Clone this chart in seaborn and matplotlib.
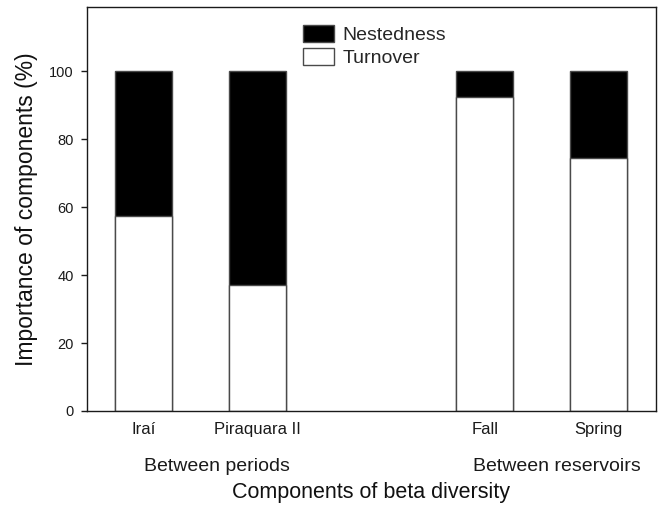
import matplotlib
matplotlib.use("Agg")
import matplotlib.pyplot as plt
import seaborn as sns
import pandas as pd
from matplotlib.patches import Patch

# Partition of beta diversity (%) into turnover and nestedness
sites = ["Iraí", "Piraquara II", "Fall", "Spring"]
turnover = [57.5, 37.0, 92.5, 74.5]
nestedness = [42.5, 63.0, 7.5, 25.5]
group_labels = ["Between periods", "Between reservoirs"]
group_centers = [0.65, 3.63]
y_ticks = [0, 20, 40, 60, 80, 100]

df = pd.DataFrame({
    "site": sites,
    "turnover": turnover,
    "total": [t + n for t, n in zip(turnover, nestedness)],
})

sns.set_theme(style="ticks")
plt.rcParams["font.family"] = ["Liberation Sans", "DejaVu Sans"]

W, H = 661, 505
fig, ax = plt.subplots(figsize=(W / 100, H / 100), dpi=100)
left, right, top, bottom = 86.5, 655.5, 6.5, 411
fig.subplots_adjust(left=left / W, right=right / W, top=1 - top / H, bottom=1 - bottom / H)

# a blank slot separates the two groups
order = ["Iraí", "Piraquara II", " ", "Fall", "Spring"]
bar_kw = dict(order=order, width=0.5, edgecolor="#4a4a4a", linewidth=1.0,
              saturation=1, ax=ax)
sns.barplot(data=df, x="site", y="total", color="black", **bar_kw)
sns.barplot(data=df, x="site", y="turnover", color="white", **bar_kw)

ax.set_xlim(-0.5, 4.5)
ax.set_ylim(0, 119)
ax.set_yticks(y_ticks)
ax.set_xticks([0, 1, 3, 4])
ax.set_xticklabels(sites)
ax.tick_params(axis="x", length=0, pad=8, labelsize=12, colors="#1a1a1a")
ax.tick_params(axis="y", length=4, width=1, pad=5, labelsize=10.5,
               colors="#1a1a1a", direction="out")

for sp in ax.spines.values():
    sp.set_visible(True)
    sp.set_linewidth(1.0)
    sp.set_color("#1a1a1a")

# group captions under the tick labels
gy = (bottom - 471) / (bottom - top)
for label, xc in zip(group_labels, group_centers):
    ax.text(xc, gy, label, transform=ax.get_xaxis_transform(), ha="center",
            va="baseline", fontsize=14, color="#1a1a1a")

ax.set_xlabel("Components of beta diversity", fontsize=15.5, color="#111111")
ax.xaxis.label.set_va("baseline")
ax.xaxis.set_label_coords(0.5, (bottom - 498.3) / (bottom - top))

ax.set_ylabel("Importance of components (%)", fontsize=16.5, color="#111111")
ax.yaxis.label.set_va("center")
ax.yaxis.set_label_coords((27 - left) / (right - left), 0.5)

handles = [Patch(facecolor="black", edgecolor="#4a4a4a", linewidth=1.0),
           Patch(facecolor="white", edgecolor="#4a4a4a", linewidth=1.0)]
ax.legend(handles, ["Nestedness", "Turnover"], loc="upper left",
          bbox_to_anchor=(303 / W, 1 - 25 / H), bbox_transform=fig.transFigure,
          frameon=False, fontsize=14, handlelength=1.6, handleheight=0.95,
          handletextpad=0.45, labelspacing=0.22, borderpad=0, borderaxespad=0)

fig.savefig("out.png", dpi=100)
